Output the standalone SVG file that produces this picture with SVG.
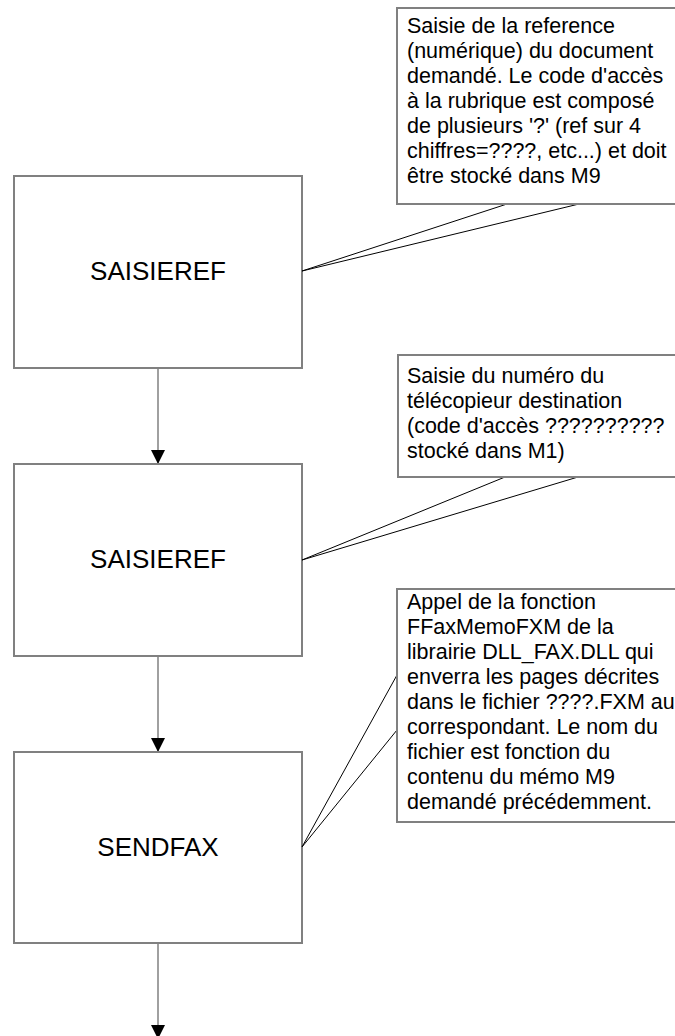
<svg xmlns="http://www.w3.org/2000/svg" width="675" height="1036" viewBox="0 0 675 1036">
<style>
.box{fill:#fff;stroke:#808080;stroke-width:2}
.lbl{font-family:"Liberation Sans",Arial,sans-serif;font-size:26px;fill:#000;text-anchor:middle}
.note{font-family:"Liberation Sans",Arial,sans-serif;font-size:21.5px;fill:#000}
.ptr{fill:none;stroke:#000;stroke-width:1}
.conn{stroke:#808080;stroke-width:1.5;fill:none}
</style>
<defs>
<marker id="arr" markerWidth="14" markerHeight="14" viewBox="0 0 14 14" refX="14" refY="7" orient="auto" markerUnits="userSpaceOnUse">
<path d="M0,0 L14,7 L0,14 Z" fill="#000"/>
</marker>
</defs>
<rect width="675" height="1036" fill="#fff"/>
<g id="connectors">
<line class="conn" x1="158" y1="368" x2="158" y2="464" marker-end="url(#arr)"/>
<line class="conn" x1="158" y1="656" x2="158" y2="752" marker-end="url(#arr)"/>
<line class="conn" x1="158" y1="943" x2="158" y2="1039" marker-end="url(#arr)"/>
</g>
<g id="node1">
<rect class="box" x="14" y="176" width="288" height="192"/>
<text class="lbl" x="158" y="280">SAISIEREF</text>
</g>
<g id="node2">
<rect class="box" x="14" y="464" width="288" height="192"/>
<text class="lbl" x="158" y="568">SAISIEREF</text>
</g>
<g id="node3">
<rect class="box" x="14" y="752" width="288" height="191"/>
<text class="lbl" x="158" y="856">SENDFAX</text>
</g>
<g id="note1">
<polyline class="ptr" points="507,204 302,271 579,204"/>
<rect class="box" x="397" y="8" width="290" height="196"/>
<text class="note" x="407" y="33">Saisie de la reference</text>
<text class="note" x="407" y="58">(numérique) du document</text>
<text class="note" x="407" y="83">demandé. Le code d'accès</text>
<text class="note" x="407" y="108">à la rubrique est composé</text>
<text class="note" x="407" y="133">de plusieurs '?' (ref sur 4</text>
<text class="note" x="407" y="158">chiffres=????, etc...) et doit</text>
<text class="note" x="407" y="183">être stocké dans M9</text>
</g>
<g id="note2">
<polyline class="ptr" points="505,477 302,560 578,477"/>
<rect class="box" x="398" y="355" width="290" height="122"/>
<text class="note" x="407" y="383">Saisie du numéro du</text>
<text class="note" x="407" y="408">télécopieur destination</text>
<text class="note" x="407" y="433">(code d'accès ??????????</text>
<text class="note" x="407" y="458">stocké dans M1)</text>
</g>
<g id="note3">
<polyline class="ptr" points="397,675 302,847 397,730"/>
<rect class="box" x="397" y="589" width="290" height="233"/>
<text class="note" x="407" y="609">Appel de la fonction</text>
<text class="note" x="407" y="634">FFaxMemoFXM de la</text>
<text class="note" x="407" y="659">librairie DLL_FAX.DLL qui</text>
<text class="note" x="407" y="684">enverra les pages décrites</text>
<text class="note" x="407" y="709">dans le fichier ????.FXM au</text>
<text class="note" x="407" y="734">correspondant. Le nom du</text>
<text class="note" x="407" y="759">fichier est fonction du</text>
<text class="note" x="407" y="784">contenu du mémo M9</text>
<text class="note" x="407" y="809">demandé précédemment.</text>
</g>
</svg>
